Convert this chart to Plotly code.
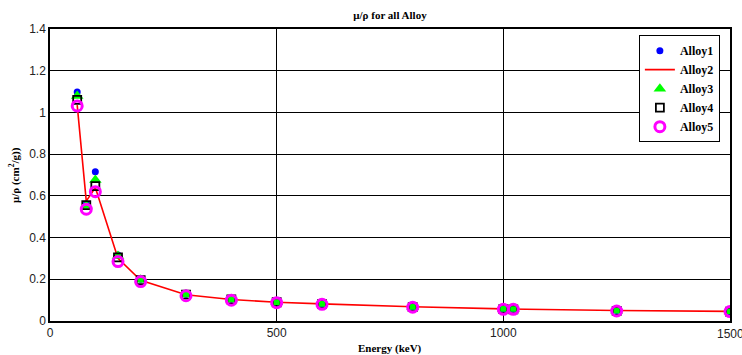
import plotly.graph_objects as go

# Photon energies (keV)
energy = [60, 80, 100, 150, 200, 300, 400, 500, 600, 800, 1000, 1022, 1250, 1500]

# Mass attenuation coefficients mu/rho (cm^2/g) for each alloy
alloy1 = [1.098, 0.560, 0.716, 0.317, 0.200, 0.128, 0.105, 0.091, 0.082, 0.068, 0.058, 0.057, 0.050, 0.046]
alloy2 = [1.035, 0.575, 0.640, 0.300, 0.195, 0.126, 0.103, 0.090, 0.082, 0.068, 0.058, 0.057, 0.050, 0.046]
alloy3 = [1.079, 0.552, 0.676, 0.312, 0.198, 0.127, 0.104, 0.090, 0.081, 0.067, 0.057, 0.057, 0.049, 0.045]
alloy4 = [1.060, 0.556, 0.647, 0.305, 0.196, 0.126, 0.104, 0.090, 0.081, 0.067, 0.057, 0.056, 0.049, 0.045]
alloy5 = [1.031, 0.536, 0.620, 0.285, 0.189, 0.121, 0.100, 0.088, 0.080, 0.066, 0.056, 0.056, 0.048, 0.045]

x_ticks = [0, 500, 1000, 1500]
y_ticks = [0, 0.2, 0.4, 0.6, 0.8, 1.0, 1.2, 1.4]

serif = "Liberation Serif, Times New Roman, serif"
sans = "Liberation Sans, Arial, sans-serif"
tick_font = dict(family=sans, size=12, color="#222222")

fig = go.Figure()
fig.add_trace(go.Scatter(x=energy, y=alloy1, mode="markers", name="<b>Alloy1</b>",
                         marker=dict(symbol="circle", size=7, color="#0000ff")))
fig.add_trace(go.Scatter(x=energy, y=alloy2, mode="lines", name="<b>Alloy2</b>",
                         line=dict(color="#ff0000", width=1.6)))
fig.add_trace(go.Scatter(x=energy, y=alloy3, mode="markers", name="<b>Alloy3</b>",
                         marker=dict(symbol="triangle-up", size=11, color="#00ff00")))
fig.add_trace(go.Scatter(x=energy, y=alloy4, mode="markers", name="<b>Alloy4</b>",
                         marker=dict(symbol="square-open", size=8, color="#000000",
                                     line=dict(width=1.8))))
fig.add_trace(go.Scatter(x=energy, y=alloy5, mode="markers", name="<b>Alloy5</b>",
                         marker=dict(symbol="circle-open", size=10, color="#ff00ff",
                                     line=dict(width=3))))

axis_common = dict(showline=True, mirror=True, linecolor="black", linewidth=1.5,
                   showgrid=True, gridcolor="black", gridwidth=1, zeroline=False,
                   automargin=False, ticks="", tickfont=tick_font)

fig.update_xaxes(range=[0, 1500], tickvals=x_ticks, **axis_common)
fig.update_yaxes(range=[0, 1.4], tickvals=y_ticks, **axis_common)

# The last x tick label runs past the page edge; draw it explicitly so it shows (clipped)
last_tick = x_ticks[-1]

fig.update_layout(
    width=742, height=355,
    margin=dict(l=50, r=12, t=29, b=34, autoexpand=False),
    paper_bgcolor="white", plot_bgcolor="white",
    showlegend=True,
    legend=dict(x=0.866, y=0.979, xanchor="left", yanchor="top",
                bgcolor="white", bordercolor="black", borderwidth=1,
                font=dict(family=serif, size=12, color="black"),
                tracegroupgap=0, itemwidth=30),
    title=dict(text="<b>μ/ρ for all Alloy</b>", x=0.5, xref="paper", y=0.958,
               yanchor="middle", font=dict(family=serif, size=11, color="black")),
    annotations=[
        dict(text=str(last_tick), xref="x", yref="paper", x=last_tick, y=0,
             yshift=-4, showarrow=False, yanchor="top", xanchor="center",
             font=tick_font),
        dict(text="<b>Energy (keV)</b>", xref="paper", yref="paper", x=0.5, y=0,
             yshift=-27, showarrow=False, yanchor="middle",
             font=dict(family=serif, size=11, color="black")),
        dict(text="<b>μ/ρ (cm<sup>2</sup>/g))</b>", xref="paper", yref="paper", x=0, y=0.5,
             xshift=-36, showarrow=False, textangle=-90, xanchor="center",
             font=dict(family=serif, size=11, color="black")),
    ],
)

fig.write_html("out.html")
